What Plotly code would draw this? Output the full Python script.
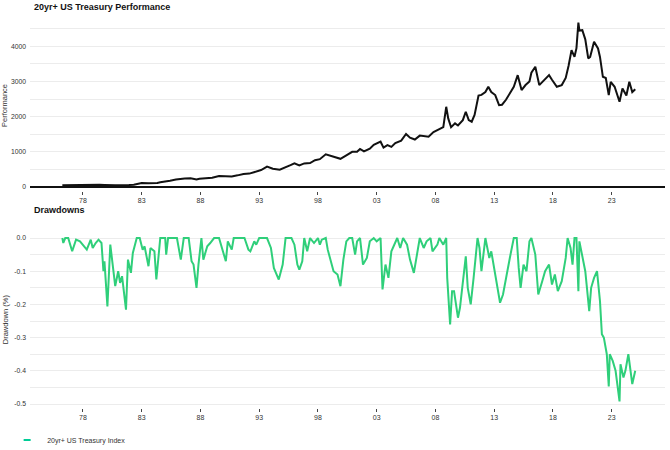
import plotly.graph_objects as go
from plotly.subplots import make_subplots

# ---------------- data ----------------
perf_dates = [
    "1976-04", "1976-10", "1977-06", "1978-03", "1978-09", "1979-06", "1979-11", "1980-02",
    "1980-05", "1980-10", "1981-03", "1981-09", "1981-12", "1982-05", "1982-09", "1983-01",
    "1983-08", "1984-02", "1984-05", "1984-08", "1985-02", "1985-06", "1985-12", "1986-05",
    "1986-09", "1987-03", "1987-09", "1987-12", "1988-06", "1989-01", "1989-08", "1990-03",
    "1990-09", "1991-03", "1991-09", "1992-03", "1992-09", "1993-03", "1993-09", "1994-03",
    "1994-10", "1995-03", "1995-09", "1996-01", "1996-06", "1996-11", "1997-05", "1997-10",
    "1998-03", "1998-09", "1999-02", "1999-07", "1999-12", "2000-06", "2000-12", "2001-05",
    "2001-08", "2001-12", "2002-06", "2002-10", "2003-05", "2003-08", "2003-12", "2004-04",
    "2004-08", "2005-02", "2005-07", "2005-11", "2006-04", "2006-09", "2007-01", "2007-06",
    "2007-11", "2008-04", "2008-09", "2008-12", "2009-02", "2009-05", "2009-09", "2009-12",
    "2010-05", "2010-08", "2010-11", "2011-02", "2011-05", "2011-09", "2011-12", "2012-04",
    "2012-07", "2012-10", "2013-02", "2013-06", "2013-09", "2014-01", "2014-05", "2014-09",
    "2015-01", "2015-05", "2015-09", "2016-01", "2016-03", "2016-07", "2016-11", "2017-03",
    "2017-09", "2017-12", "2018-05", "2018-10", "2019-02", "2019-05", "2019-08", "2019-11",
    "2020-01", "2020-03", "2020-04", "2020-07", "2020-10", "2021-01", "2021-03", "2021-07",
    "2021-11", "2022-01", "2022-04", "2022-07", "2022-10", "2022-12", "2023-04", "2023-09",
    "2023-12", "2024-04", "2024-07", "2024-10", "2025-01",
]
perf_values = [
    50, 55, 58, 56, 58, 60, 55, 48,
    60, 50, 48, 42, 52, 60, 95, 110,
    108, 115, 110, 135, 150, 175, 210, 235,
    240, 245, 210, 235, 250, 265, 310, 295,
    300, 330, 370, 380, 420, 480, 577, 520,
    490, 540, 620, 672, 610, 670, 680, 760,
    790, 929, 880, 850, 800, 900, 1000, 1000,
    1080, 1010, 1090, 1200, 1288, 1120, 1190, 1140,
    1250, 1320, 1506, 1400, 1350, 1460, 1450, 1430,
    1560, 1620, 1700, 2281, 1950, 1700, 1810, 1750,
    1900, 2140, 1900, 1855, 2050, 2600, 2620, 2700,
    2850, 2700, 2614, 2330, 2340, 2480, 2650, 2850,
    3180, 2756, 2900, 3000, 3250, 3418, 2898, 3000,
    3182, 3050, 2850, 2898, 3100, 3450, 3892, 3703,
    3950, 4679, 4450, 4460, 4200, 3656, 3700, 4128,
    3940, 3700, 3134, 3100, 2614, 2991, 2850, 2423,
    2804, 2600, 2991, 2700, 2780,
]

dd_dates = [
    "1976-04", "1976-05", "1976-07", "1976-10", "1977-02", "1977-04", "1977-06", "1977-10",
    "1978-02", "1978-05", "1978-09", "1978-11", "1979-02", "1979-05", "1979-08", "1979-10",
    "1979-11", "1980-02", "1980-05", "1980-07", "1980-10", "1981-01", "1981-03", "1981-05",
    "1981-09", "1981-11", "1982-02", "1982-04", "1982-08", "1982-11", "1983-02", "1983-04",
    "1983-08", "1983-10", "1984-02", "1984-04", "1984-08", "1985-01", "1985-02", "1985-04",
    "1986-01", "1986-05", "1986-08", "1987-01", "1987-04", "1987-06", "1987-09", "1987-11",
    "1988-02", "1988-04", "1988-08", "1988-11", "1989-03", "1989-08", "1989-11", "1990-03",
    "1990-05", "1990-09", "1990-11", "1991-10", "1992-02", "1992-04", "1992-08", "1992-10",
    "1993-01", "1993-09", "1994-01", "1994-04", "1994-09", "1995-01", "1995-04", "1995-10",
    "1996-01", "1996-04", "1996-06", "1996-09", "1996-11", "1997-02", "1997-05", "1997-09",
    "1998-01", "1998-03", "1998-05", "1998-09", "1998-11", "1999-02", "1999-05", "1999-09",
    "1999-12", "2000-03", "2000-06", "2000-09", "2000-12", "2001-03", "2001-05", "2001-08",
    "2001-11", "2002-03", "2002-06", "2002-10", "2003-01", "2003-05", "2003-07", "2003-10",
    "2004-01", "2004-04", "2004-08", "2004-10", "2005-01", "2005-04", "2005-08", "2005-11",
    "2006-03", "2006-06", "2006-09", "2007-01", "2007-04", "2007-08", "2007-10", "2008-03",
    "2008-05", "2008-09", "2008-12", "2009-01", "2009-04", "2009-06", "2009-08", "2009-10",
    "2009-12", "2010-02", "2010-05", "2010-08", "2010-10", "2011-01", "2011-04", "2011-08",
    "2011-10", "2011-12", "2012-04", "2012-08", "2012-10", "2013-02", "2013-07", "2013-10",
    "2014-02", "2014-05", "2014-09", "2014-12", "2015-02", "2015-04", "2015-07", "2015-10",
    "2016-01", "2016-03", "2016-07", "2016-10", "2017-02", "2017-05", "2017-09", "2017-12",
    "2018-03", "2018-06", "2018-10", "2019-02", "2019-04", "2019-07", "2019-09", "2019-11",
    "2020-01", "2020-03", "2020-04", "2020-07", "2020-10", "2021-02", "2021-04", "2021-07",
    "2021-10", "2022-01", "2022-03", "2022-05", "2022-08", "2022-10", "2022-11", "2023-02",
    "2023-05", "2023-09", "2023-10", "2024-01", "2024-03", "2024-06", "2024-09", "2024-10",
    "2025-01",
]
dd_values = [
    0.0, -0.015, 0.0, 0.0, -0.04, -0.02, -0.005, -0.01,
    -0.025, -0.035, -0.005, -0.03, -0.015, -0.005, -0.015, -0.10,
    -0.07, -0.206, -0.02, -0.07, -0.145, -0.10, -0.135, -0.115,
    -0.216, -0.065, -0.105, -0.045, 0.0, 0.0, -0.035, -0.025,
    -0.085, -0.03, -0.04, -0.125, 0.0, 0.0, -0.05, 0.0,
    0.0, -0.065, 0.0, 0.0, -0.07, -0.08, -0.15, -0.08,
    0.0, -0.065, -0.025, -0.015, 0.0, 0.0, -0.03, -0.07,
    -0.01, -0.035, 0.0, 0.0, -0.035, -0.04, -0.01, -0.02,
    0.0, 0.0, -0.03, -0.09, -0.125, -0.08, 0.0, 0.0,
    -0.02, -0.08, -0.095, -0.07, 0.0, -0.04, 0.0, -0.015,
    0.0, -0.02, -0.005, 0.0, -0.035, -0.065, -0.10, -0.11,
    -0.145, -0.065, -0.01, 0.0, 0.0, -0.05, -0.01, 0.0,
    -0.08, -0.06, -0.01, 0.0, -0.01, 0.0, -0.155, -0.08,
    -0.12, -0.04, -0.01, 0.0, -0.03, 0.0, -0.02, -0.065,
    -0.105, -0.05, 0.0, -0.03, -0.01, 0.0, -0.04, -0.02,
    0.0, -0.02, 0.0, -0.12, -0.26, -0.16, -0.16, -0.20,
    -0.24, -0.21, -0.13, -0.055, -0.15, -0.20, -0.12, 0.0,
    -0.03, -0.10, 0.0, -0.06, -0.04, -0.11, -0.195, -0.17,
    -0.10, -0.06, 0.0, 0.0, -0.09, -0.15, -0.08, -0.10,
    -0.01, 0.0, -0.05, -0.17, -0.13, -0.10, -0.08, -0.14,
    -0.11, -0.16, -0.13, -0.06, 0.0, -0.03, -0.08, 0.0,
    0.0, -0.16, -0.01, -0.06, -0.10, -0.22, -0.15, -0.12,
    -0.10, -0.19, -0.29, -0.30, -0.35, -0.447, -0.35, -0.37,
    -0.40, -0.492, -0.38, -0.42, -0.40, -0.35, -0.41, -0.44,
    -0.40,
]

perf_tick_vals = [0, 1000, 2000, 3000, 4000]
perf_tick_text = ["0", "1000", "2000", "3000", "4000"]
dd_tick_vals = [0.0, -0.1, -0.2, -0.3, -0.4, -0.5]
dd_tick_text = ["0.0", "-0.1", "-0.2", "-0.3", "-0.4", "-0.5"]

series_name = "20yr+ US Treasury Index"
title_top = "20yr+ US Treasury Performance"
title_bottom = "Drawdowns"

# ---------------- figure ----------------
BLACK = "#111111"
GREEN = "#2fcf7a"
GRID = "#ececec"
TXT = "#333333"
FONT = "Liberation Sans, Arial, sans-serif"

fig = make_subplots(rows=2, cols=1, vertical_spacing=0.1)

fig.add_trace(go.Scatter(x=perf_dates, y=perf_values, mode="lines",
                         line=dict(color=BLACK, width=2), showlegend=False,
                         hoverinfo="skip"), row=1, col=1)
fig.add_trace(go.Scatter(x=dd_dates, y=dd_values, mode="lines",
                         line=dict(color=GREEN, width=2), showlegend=False,
                         name=series_name), row=2, col=1)
# legend entry (short dash symbol like the reference)
fig.add_trace(go.Scatter(x=[None], y=[None], mode="markers", name=series_name,
                         marker=dict(symbol="line-ew-open", size=5,
                                     line=dict(color=GREEN, width=2)),
                         showlegend=True), row=2, col=1)

xrange = ["1973-07-01", "2027-07-15"]
xcommon = dict(range=xrange, type="date", tick0="1978-01-01", dtick="M60",
               tickformat="%y", showgrid=False, ticks="outside", ticklen=3,
               tickcolor="#444", tickwidth=1, showline=False, automargin=False,
               tickfont=dict(size=7, color=TXT, family=FONT))

fig.update_layout(
    width=670, height=450,
    margin=dict(l=30, r=5, t=20, b=42, autoexpand=False),
    paper_bgcolor="white", plot_bgcolor="white",
    font=dict(family=FONT, size=7, color=TXT),
    xaxis=dict(domain=[0, 1], anchor="y", **xcommon),
    xaxis2=dict(domain=[0, 1], anchor="y2", **xcommon),
    yaxis=dict(domain=[0.5593, 1], range=[-115, 4750],
               tickvals=perf_tick_vals, ticktext=perf_tick_text,
               showgrid=True, gridcolor=GRID, gridwidth=1,
               minor=dict(dtick=500, tick0=0, showgrid=True, gridcolor=GRID, gridwidth=1),
               zeroline=True, zerolinecolor=BLACK, zerolinewidth=1.5,
               showline=False, ticks="", ticklabelstandoff=3, automargin=False,
               tickfont=dict(size=6.8, color=TXT, family=FONT),
               title=dict(text="Performance", standoff=4,
                          font=dict(size=7.5, color=TXT, family=FONT))),
    yaxis2=dict(domain=[0, 0.4552], range=[-0.512, 0.02],
                tickvals=dd_tick_vals, ticktext=dd_tick_text,
                showgrid=True, gridcolor=GRID, gridwidth=1,
                minor=dict(dtick=0.05, tick0=0, showgrid=True, gridcolor=GRID, gridwidth=1),
                zeroline=False, showline=False, ticks="", ticklabelstandoff=3,
                automargin=False,
                tickfont=dict(size=6.8, color=TXT, family=FONT),
                title=dict(text="Drawdown (%)", standoff=4,
                           font=dict(size=7.5, color=TXT, family=FONT))),
    legend=dict(orientation="h", x=-0.036, xanchor="left",
                yref="container", y=0.022, yanchor="middle",
                font=dict(size=7, color=TXT, family=FONT),
                itemwidth=30, bgcolor="rgba(0,0,0,0)"),
    annotations=[
        dict(text="<b>" + title_top + "</b>", xref="paper", yref="paper",
             x=0.003, y=1.0, yshift=13, xanchor="left", yanchor="middle",
             showarrow=False, font=dict(size=9, color="#111", family=FONT)),
        dict(text="<b>" + title_bottom + "</b>", xref="paper", yref="paper",
             x=0.003, y=0.4552, yshift=21, xanchor="left", yanchor="middle",
             showarrow=False, font=dict(size=9, color="#111", family=FONT)),
    ],
)

fig.write_html("out.html")
